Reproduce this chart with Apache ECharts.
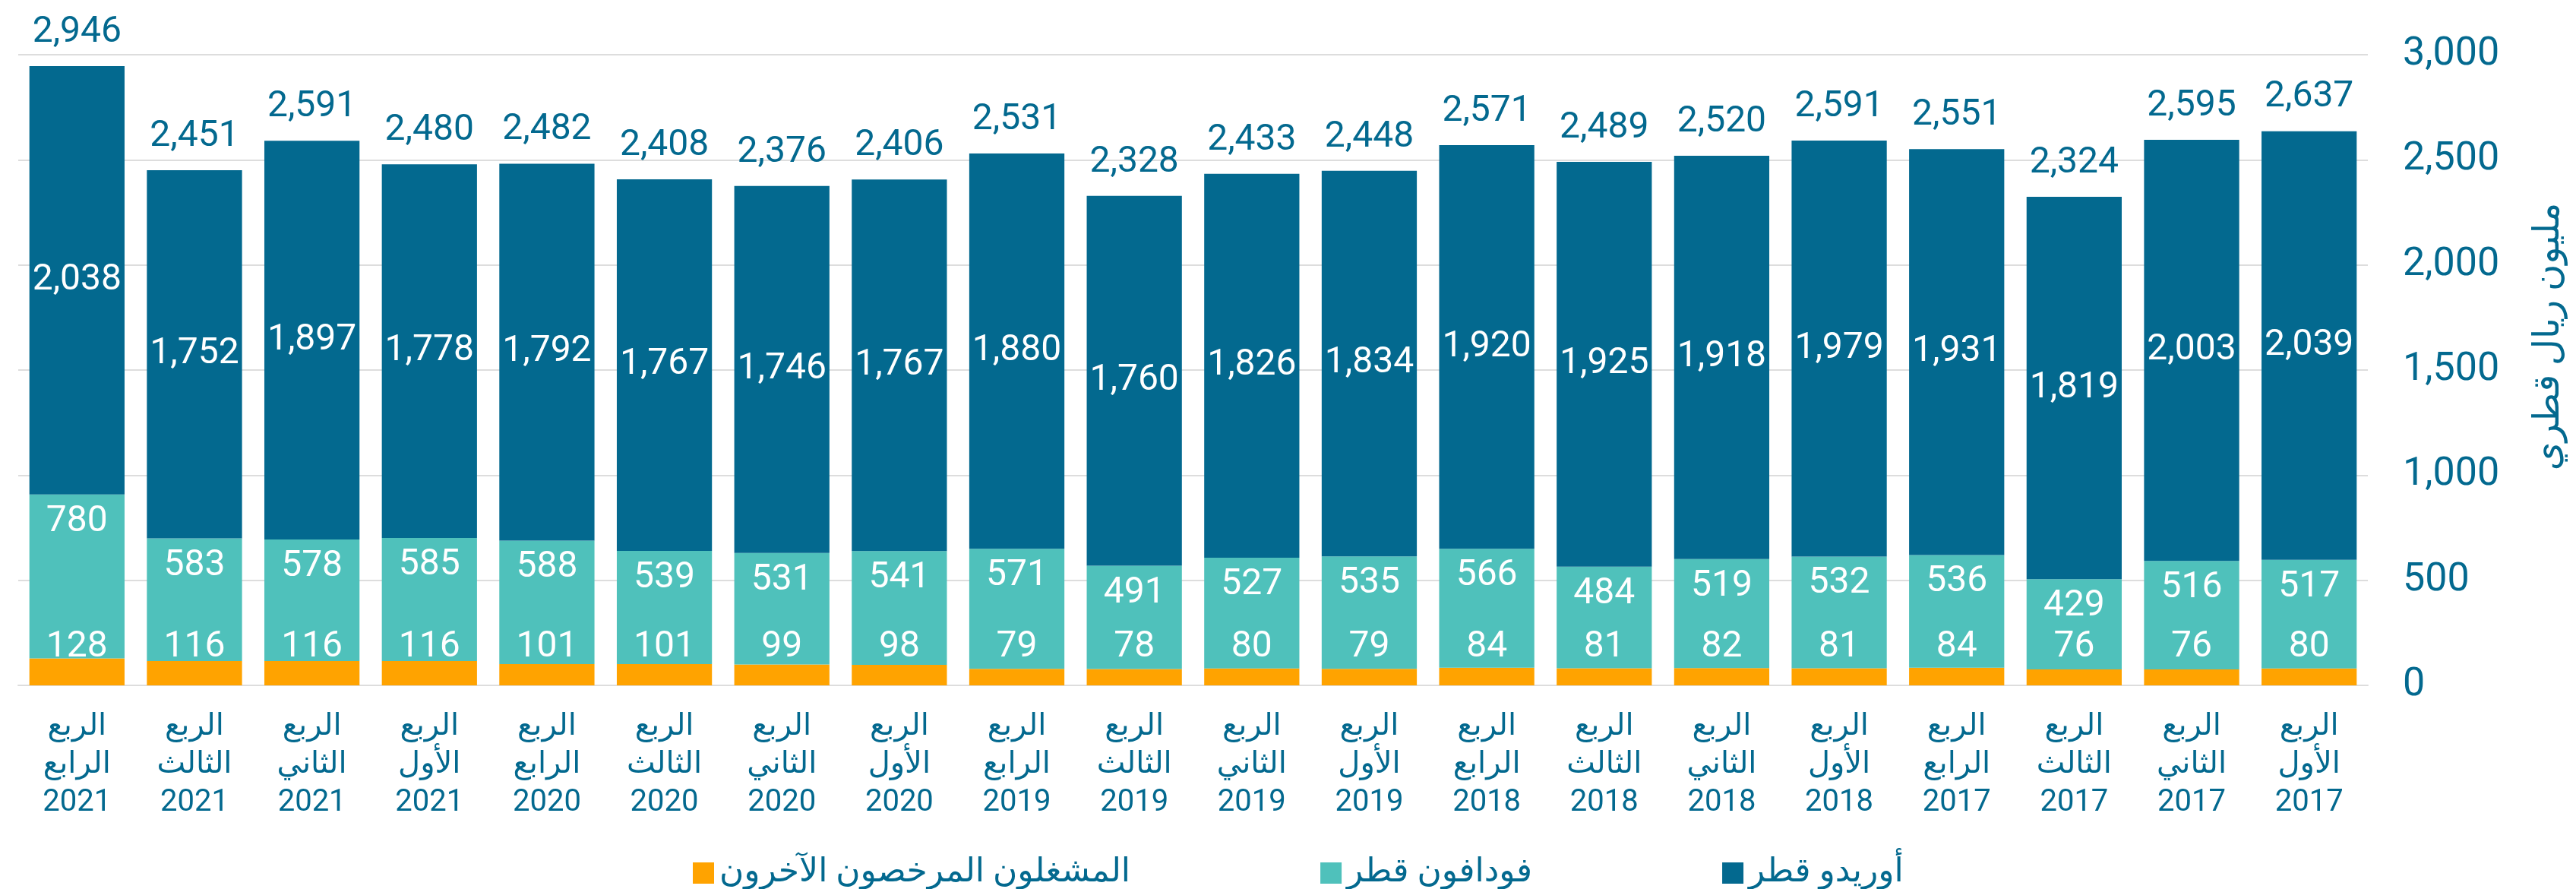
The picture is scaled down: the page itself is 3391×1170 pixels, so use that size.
<!DOCTYPE html>
<html>
<head>
<meta charset="utf-8">
<title>Stacked revenue chart</title>
<script src="https://cdn.jsdelivr.net/npm/echarts@6/dist/echarts.min.js"></script>
<style>
  html, body { margin: 0; padding: 0; background: #fff; }
  #chart { width: 3391px; height: 1170px; }
</style>
</head>
<body>
<div id="chart"></div>
<script>
// categories, left to right as in the picture
const quarters = ['الرابع', 'الثالث', 'الثاني', 'الأول', 'الرابع', 'الثالث', 'الثاني', 'الأول', 'الرابع', 'الثالث',
  'الثاني', 'الأول', 'الرابع', 'الثالث', 'الثاني', 'الأول', 'الرابع', 'الثالث', 'الثاني', 'الأول']
const years = ['2021', '2021', '2021', '2021', '2020', '2020', '2020', '2020', '2019', '2019',
  '2019', '2019', '2018', '2018', '2018', '2018', '2017', '2017', '2017', '2017']

const seriesNames = ['أوريدو قطر', 'فودافون قطر', 'المشغلون المرخصون الآخرون']

const otherValues = [128, 116, 116, 116, 101, 101, 99, 98, 79, 78, 80, 79, 84, 81, 82, 81, 84, 76, 76, 80]
const vodafoneValues = [780, 583, 578, 585, 588, 539, 531, 541, 571, 491, 527, 535, 566, 484, 519, 532, 536, 429, 516, 517]
const ooredooValues = [2038, 1752, 1897, 1778, 1792, 1767, 1746, 1767, 1880, 1760, 1826, 1834, 1920, 1925, 1918, 1979, 1931, 1819, 2003, 2039]
const totalValues = [2946, 2451, 2591, 2480, 2482, 2408, 2376, 2406, 2531, 2328, 2433, 2448, 2571, 2489, 2520, 2591, 2551, 2324, 2595, 2637]

const yTicks = [0, 500, 1000, 1500, 2000, 2500, 3000]

const categories = quarters.map((q, i) => 'الربع\n' + q + '\n' + years[i])

const BLUE = '#03698F'
const TEAL = '#4FC1BB'
const ORANGE = '#FFA300'
const FONT = 'Roboto, "DejaVu Sans", sans-serif'

const fmt = v => Number(v).toLocaleString('en-US')

const chart = echarts.init(document.getElementById('chart'))

const option = {
  animation: false,
  textStyle: { fontFamily: FONT },
  grid: {
    left: 24,
    right: 274,
    top: 72,
    bottom: 268,
    containLabel: false,
    outerBoundsMode: 'none'
  },
  legend: {
    data: [seriesNames[2], seriesNames[1], seriesNames[0]],
    left: 907,
    top: 1122,
    itemWidth: 28,
    itemHeight: 28,
    itemGap: 250,
    icon: 'rect',
    textStyle: { color: BLUE, fontSize: 44, fontFamily: FONT, padding: [0, 0, 0, 2] }
  },
  xAxis: {
    type: 'category',
    data: categories,
    axisTick: { show: false },
    axisLine: { lineStyle: { color: '#DDDDDD', width: 2 } },
    axisLabel: {
      interval: 0,
      margin: 30,
      color: BLUE,
      fontSize: 40,
      lineHeight: 50,
      fontFamily: FONT
    }
  },
  yAxis: {
    type: 'value',
    position: 'right',
    min: yTicks[0],
    max: yTicks[yTicks.length - 1],
    interval: 500,
    name: 'مليون ريال قطري',
    nameLocation: 'middle',
    nameRotate: 90,
    nameGap: 215,
    nameTextStyle: { color: BLUE, fontSize: 48, fontFamily: FONT, padding: [0, 0, 0, 88] },
    axisLine: { show: false },
    axisTick: { show: false },
    splitLine: { lineStyle: { color: '#DDDDDD', width: 2 } },
    axisLabel: {
      margin: 46,
      color: BLUE,
      fontSize: 52,
      fontFamily: FONT,
      padding: [0, 0, 20, 0],
      formatter: v => fmt(v)
    }
  },
  series: [
    {
      name: seriesNames[2],
      type: 'bar',
      stack: 'total',
      barCategoryGap: '19%',
      data: otherValues,
      itemStyle: { color: ORANGE },
      label: {
        show: true,
        position: 'insideBottom',
        offset: [0, -21],
        color: '#fff',
        fontSize: 48,
        fontFamily: FONT,
        formatter: p => fmt(p.value)
      }
    },
    {
      name: seriesNames[1],
      type: 'bar',
      stack: 'total',
      data: vodafoneValues,
      itemStyle: { color: TEAL },
      label: {
        show: true,
        position: 'insideTop',
        offset: [0, 7],
        color: '#fff',
        fontSize: 48,
        fontFamily: FONT,
        formatter: p => fmt(p.value)
      }
    },
    {
      name: seriesNames[0],
      type: 'bar',
      stack: 'total',
      data: ooredooValues,
      itemStyle: { color: BLUE },
      label: {
        show: true,
        position: 'inside',
        color: '#fff',
        fontSize: 48,
        fontFamily: FONT,
        formatter: p => fmt(p.value)
      }
    },
    {
      // totals drawn as invisible bars laid over the stack
      name: 'total',
      type: 'bar',
      barGap: '-100%',
      data: totalValues,
      itemStyle: { color: 'rgba(0,0,0,0)' },
      silent: true,
      label: {
        show: true,
        position: 'top',
        distance: 20,
        color: BLUE,
        fontSize: 48,
        fontFamily: FONT,
        formatter: p => fmt(p.value)
      }
    }
  ]
}

chart.setOption(option)
</script>
</body>
</html>
